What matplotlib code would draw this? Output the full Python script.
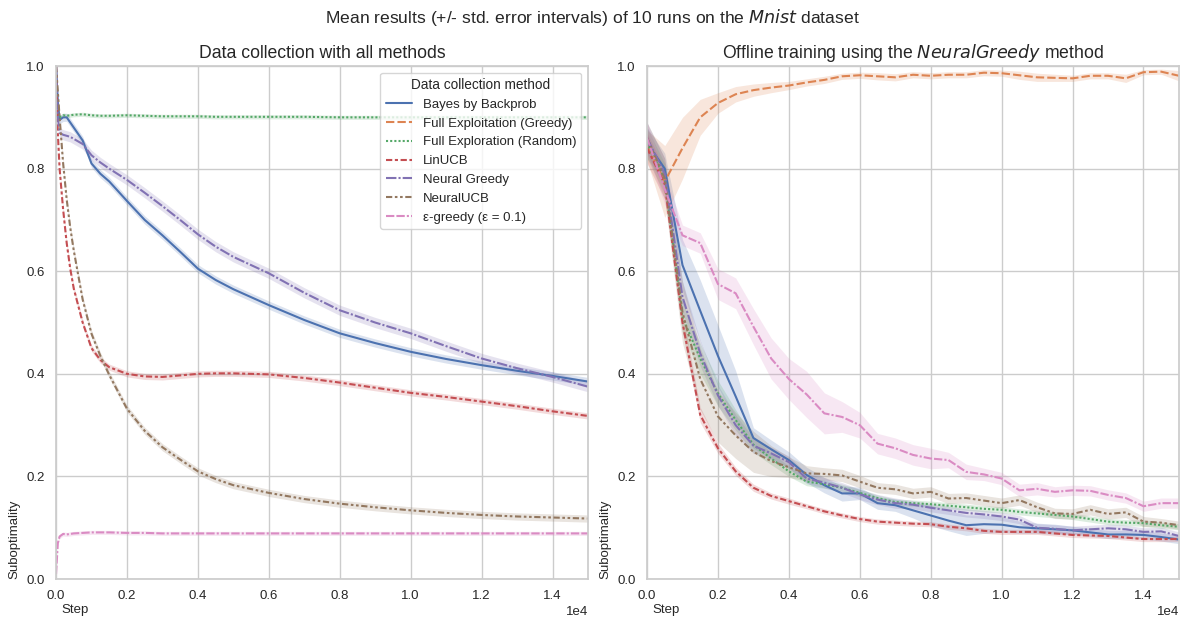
#! /usr/bin/env python

"""
  Mean suboptimality curves on Mnist, saved to out.png
"""

import matplotlib
matplotlib.use('Agg')
import matplotlib.pyplot as plt
from matplotlib.lines import Line2D
import numpy as np
import seaborn as sns

sns.set_theme(style='whitegrid')
plt.rcParams['font.family'] = ['Liberation Sans', 'DejaVu Sans']

methods = ['Bayes by Backprob', 'Full Exploitation (Greedy)', 'Full Exploration (Random)',
           'LinUCB', 'Neural Greedy', 'NeuralUCB', 'ε-greedy (ε = 0.1)']

# left panel: data collection (Greedy is not drawn there)
steps_left = [0, 50, 100, 200, 300, 400, 500, 750, 1000, 1250, 1500, 2000, 2500, 3000, 3500,
              4000, 4500, 5000, 6000, 7000, 8000, 9000, 10000, 11000, 12000, 13000, 14000, 15000]
left_bayes = [1.0, 0.93, 0.895, 0.90, 0.90, 0.89, 0.88, 0.855, 0.81, 0.79, 0.775, 0.737, 0.70, 0.67,
              0.638, 0.605, 0.583, 0.565, 0.534, 0.505, 0.479, 0.46, 0.443, 0.429, 0.417, 0.406, 0.396, 0.385]
left_random = [0.92, 0.89, 0.90, 0.904, 0.903, 0.904, 0.905, 0.906, 0.904, 0.903, 0.903, 0.904, 0.903,
               0.902, 0.902, 0.902, 0.901, 0.901, 0.901, 0.901, 0.90, 0.90, 0.90, 0.90, 0.90, 0.90, 0.90, 0.90]
left_linucb = [1.0, 0.87, 0.80, 0.72, 0.655, 0.605, 0.566, 0.50, 0.45, 0.427, 0.413, 0.400, 0.395, 0.394,
               0.397, 0.40, 0.401, 0.401, 0.399, 0.392, 0.383, 0.373, 0.363, 0.355, 0.346, 0.337, 0.327, 0.318]
left_ngreedy = [1.0, 0.90, 0.87, 0.866, 0.864, 0.862, 0.858, 0.848, 0.826, 0.812, 0.80, 0.778, 0.753, 0.727,
                0.70, 0.672, 0.648, 0.628, 0.596, 0.558, 0.524, 0.50, 0.479, 0.454, 0.43, 0.411, 0.394, 0.375]
left_nucb = [1.0, 0.95, 0.90, 0.81, 0.74, 0.685, 0.64, 0.545, 0.478, 0.435, 0.398, 0.332, 0.289, 0.257,
             0.233, 0.21, 0.195, 0.183, 0.168, 0.156, 0.147, 0.140, 0.134, 0.129, 0.125, 0.122, 0.120, 0.118]
left_egreedy = [0.01, 0.07, 0.083, 0.088, 0.087, 0.088, 0.089, 0.090, 0.091, 0.091, 0.091, 0.090, 0.090,
                0.089, 0.089, 0.089, 0.089, 0.089, 0.089, 0.089, 0.089, 0.089, 0.089, 0.089, 0.089, 0.089, 0.089, 0.089]
left_err = [0.008, 0.0, 0.004, 0.006, 0.01, 0.007, 0.004]

# right panel: offline training with NeuralGreedy
steps_right = [0, 500, 1000, 1500, 2000, 2500, 3000, 3500, 4000, 4500, 5000, 5500, 6000, 6500, 7000, 7500,
               8000, 8500, 9000, 9500, 10000, 10500, 11000, 11500, 12000, 12500, 13000, 13500, 14000, 14500, 15000]
right_bayes = [0.85, 0.80, 0.612, 0.523, 0.435, 0.356, 0.275, 0.253, 0.232, 0.203, 0.183, 0.167, 0.167, 0.148,
               0.144, 0.134, 0.124, 0.114, 0.105, 0.107, 0.106, 0.101, 0.099, 0.097, 0.095, 0.091, 0.087, 0.087,
               0.086, 0.082, 0.077]
right_greedy = [0.845, 0.775, 0.84, 0.90, 0.928, 0.945, 0.953, 0.958, 0.962, 0.968, 0.973, 0.980, 0.982, 0.980,
                0.978, 0.983, 0.981, 0.983, 0.983, 0.987, 0.986, 0.982, 0.978, 0.977, 0.976, 0.981, 0.981, 0.976,
                0.988, 0.989, 0.981]
right_random = [0.85, 0.78, 0.51, 0.43, 0.362, 0.31, 0.262, 0.235, 0.21, 0.19, 0.185, 0.178, 0.168, 0.158,
                0.150, 0.148, 0.146, 0.143, 0.140, 0.137, 0.135, 0.131, 0.128, 0.125, 0.122, 0.117, 0.112, 0.110,
                0.109, 0.105, 0.102]
right_linucb = [0.84, 0.77, 0.50, 0.32, 0.255, 0.21, 0.178, 0.162, 0.152, 0.142, 0.132, 0.124, 0.117, 0.112,
                0.110, 0.108, 0.107, 0.102, 0.099, 0.094, 0.092, 0.092, 0.092, 0.089, 0.086, 0.085, 0.084, 0.081,
                0.078, 0.078, 0.078]
right_ngreedy = [0.86, 0.79, 0.55, 0.44, 0.358, 0.30, 0.26, 0.245, 0.228, 0.196, 0.188, 0.178, 0.165, 0.155,
                 0.148, 0.145, 0.139, 0.134, 0.129, 0.126, 0.122, 0.116, 0.100, 0.098, 0.095, 0.097, 0.099, 0.097,
                 0.092, 0.093, 0.084]
right_nucb = [0.86, 0.78, 0.52, 0.39, 0.317, 0.28, 0.248, 0.23, 0.218, 0.206, 0.205, 0.202, 0.19, 0.178,
              0.175, 0.167, 0.170, 0.157, 0.158, 0.153, 0.148, 0.154, 0.140, 0.128, 0.127, 0.135, 0.127, 0.130,
              0.112, 0.110, 0.105]
right_egreedy = [0.86, 0.76, 0.67, 0.655, 0.575, 0.557, 0.492, 0.43, 0.39, 0.36, 0.323, 0.316, 0.30, 0.264,
                 0.255, 0.242, 0.235, 0.232, 0.209, 0.204, 0.196, 0.173, 0.176, 0.170, 0.173, 0.172, 0.164, 0.158,
                 0.142, 0.148, 0.148]

# std. error half widths, right panel
err_bayes = [0.03, 0.03, 0.05, 0.06, 0.06, 0.05, 0.02, 0.018, 0.016, 0.015, 0.015, 0.015, 0.012, 0.012, 0.012,
             0.015, 0.02, 0.02, 0.02, 0.018, 0.015, 0.012, 0.01, 0.01, 0.008, 0.008, 0.008, 0.008, 0.008, 0.008, 0.008]
err_greedy = [0.03, 0.07, 0.06, 0.035, 0.02, 0.015, 0.012, 0.01, 0.008, 0.007, 0.007, 0.006, 0.006, 0.007, 0.007,
              0.006, 0.006, 0.006, 0.006, 0.006, 0.006, 0.008, 0.008, 0.007, 0.006, 0.006, 0.006, 0.008, 0.005, 0.005, 0.01]
err_random = [0.03, 0.03, 0.03, 0.03, 0.025, 0.02, 0.015, 0.012, 0.01, 0.008, 0.008, 0.007, 0.007, 0.006, 0.006,
              0.006, 0.006, 0.006, 0.006, 0.006, 0.006, 0.006, 0.006, 0.006, 0.006, 0.006, 0.006, 0.006, 0.006, 0.006, 0.006]
err_linucb = [0.03, 0.03, 0.02, 0.015, 0.01, 0.008, 0.007, 0.006, 0.006, 0.005, 0.005, 0.005, 0.005, 0.005, 0.005,
              0.005, 0.005, 0.005, 0.005, 0.005, 0.005, 0.005, 0.005, 0.005, 0.005, 0.005, 0.005, 0.005, 0.005, 0.005, 0.005]
err_ngreedy = [0.03, 0.03, 0.03, 0.025, 0.02, 0.02, 0.015, 0.012, 0.012, 0.01, 0.01, 0.01, 0.01, 0.01, 0.01,
               0.008, 0.008, 0.008, 0.008, 0.008, 0.008, 0.008, 0.008, 0.008, 0.008, 0.008, 0.008, 0.008, 0.008, 0.008, 0.008]
err_nucb = [0.03, 0.04, 0.06, 0.06, 0.05, 0.045, 0.04, 0.03, 0.02, 0.015, 0.012, 0.012, 0.012, 0.01, 0.01,
            0.01, 0.01, 0.01, 0.01, 0.01, 0.01, 0.01, 0.01, 0.01, 0.01, 0.01, 0.01, 0.01, 0.01, 0.008, 0.008]
err_egreedy = [0.03, 0.03, 0.02, 0.02, 0.03, 0.03, 0.035, 0.04, 0.04, 0.045, 0.04, 0.03, 0.025, 0.02, 0.02,
               0.02, 0.02, 0.015, 0.015, 0.012, 0.012, 0.012, 0.012, 0.01, 0.01, 0.01, 0.01, 0.01, 0.01, 0.01, 0.01]


def draw(ax, x, y, err, color, dash, label):
  x = np.asarray(x)
  y = np.asarray(y)
  err = np.asarray(err)
  ax.fill_between(x, y - err, y + err, color=color, alpha=0.2, linewidth=0)
  line, = ax.plot(x, y, color=color, lw=1.5, label=label)
  if dash:
    line.set_dashes(dash)


def main():
  colors = sns.color_palette('deep', 7)
  dashes = ['', (4, 1.5), (1, 1), (3, 1.25, 1.5, 1.25), (5, 1, 1, 1),
            (3, 1.25, 1.25, 1.25, 1.25, 1.25), (4, 1, 4, 1, 1, 1)]

  fig, (ax1, ax2) = plt.subplots(1, 2, figsize=(11.85, 6.2), dpi=100)
  fig.subplots_adjust(left=0.0473, right=0.9949, bottom=0.066, top=0.8935, wspace=0.111)

  left = [left_bayes, None, left_random, left_linucb, left_ngreedy, left_nucb, left_egreedy]
  for i, y in enumerate(left):
    if y is None:
      continue
    draw(ax1, steps_left, y, [left_err[i]] * len(y), colors[i], dashes[i], methods[i])

  right = [right_bayes, right_greedy, right_random, right_linucb, right_ngreedy, right_nucb, right_egreedy]
  errs = [err_bayes, err_greedy, err_random, err_linucb, err_ngreedy, err_nucb, err_egreedy]
  for i in range(7):
    draw(ax2, steps_right, right[i], errs[i], colors[i], dashes[i], methods[i])

  for ax in (ax1, ax2):
    ax.set_xlim(0, 15000)
    ax.set_ylim(0, 1.0)
    ax.set_xticks([0, 2000, 4000, 6000, 8000, 10000, 12000, 14000])
    ax.ticklabel_format(axis='x', style='sci', scilimits=(0, 0))
    ax.tick_params(labelsize=9.5, pad=2)
    ax.xaxis.get_offset_text().set_fontsize(9.5)
    ax.set_xlabel('Step', fontsize=9.5, loc='left', labelpad=1)
    ax.xaxis.label.set_x(0.01)
    ax.set_ylabel('Suboptimality', fontsize=9.5, loc='bottom')

  ax1.set_title('Data collection with all methods', fontsize=12.7)
  ax2.set_title('Offline training using the $\\it{NeuralGreedy}$ method', fontsize=12.7)
  fig.suptitle('Mean results (+/- std. error intervals) of 10 runs on the $Mnist$ dataset',
               fontsize=12.6, y=0.988)

  handles = []
  for i in range(7):
    h = Line2D([], [], color=colors[i], lw=1.5)
    if dashes[i]:
      h.set_dashes(dashes[i])
    handles.append(h)
  ax1.legend(handles, methods, title='Data collection method', loc='upper right',
             fontsize=9.5, title_fontsize=9.8)

  plt.savefig('out.png')
  plt.close()


if __name__ == "__main__":
  main()
